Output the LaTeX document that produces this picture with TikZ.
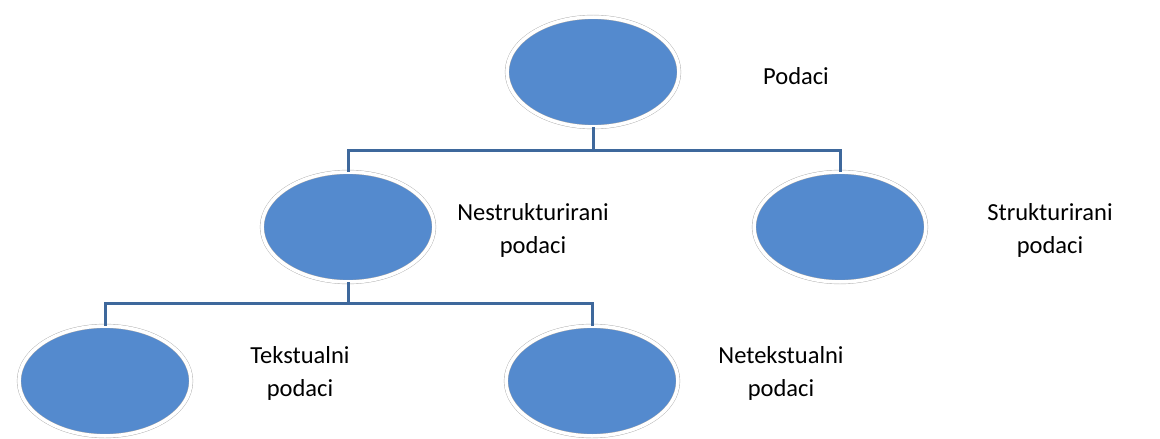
\documentclass[tikz,border=0pt]{standalone}
\usepackage{fontspec}
\setmainfont{Carlito}
\usepackage{tikz}
\usetikzlibrary{shapes,positioning}
\definecolor{ballblue}{RGB}{84,138,206}
\definecolor{linkblue}{RGB}{62,104,156}

\begin{document}
\begin{tikzpicture}[
    x=1pt, y=-1pt,
    ball/.style={ellipse, draw=gray!65, double=white, double distance=3.5pt, fill=ballblue, minimum width=172pt, minimum height=110pt, inner sep=0pt},
    caption/.style={align=center, font=\fontsize{24.5}{33}\selectfont, text=black},
    link/.style={draw=linkblue, line width=3pt}
]
\useasboundingbox (0,0) rectangle (1160,439);

% Ellipses
\node[ball] (podaci) at (593,72) {};
\node[ball] (nestr) at (348,227) {};
\node[ball] (str) at (840,227) {};
\node[ball] (tekst) at (105,381) {};
\node[ball] (netekst) at (592,381) {};

% Texts
\node[caption] (tpodaci) at (796,76) {Podaci};
\node[caption] (tnestr) at (533,230) {Nestrukturirani\\podaci};
\node[caption] (tstr) at (1050,230) {Strukturirani\\podaci};
\node[caption] (ttekst) at (300,373) {Tekstualni\\podaci};
\node[caption] (tnetekst) at (781,373) {Netekstualni\\podaci};

% Connections
\coordinate (bus1) at (593,150);
\coordinate (bus2) at (348,303);
\draw[link] (podaci.south) -- (bus1);
\draw[link] (nestr.north) |- (bus1) -| (str.north);
\draw[link] (nestr.south) -- (bus2);
\draw[link] (tekst.north) |- (bus2) -| (netekst.north);

\end{tikzpicture}
\end{document}
